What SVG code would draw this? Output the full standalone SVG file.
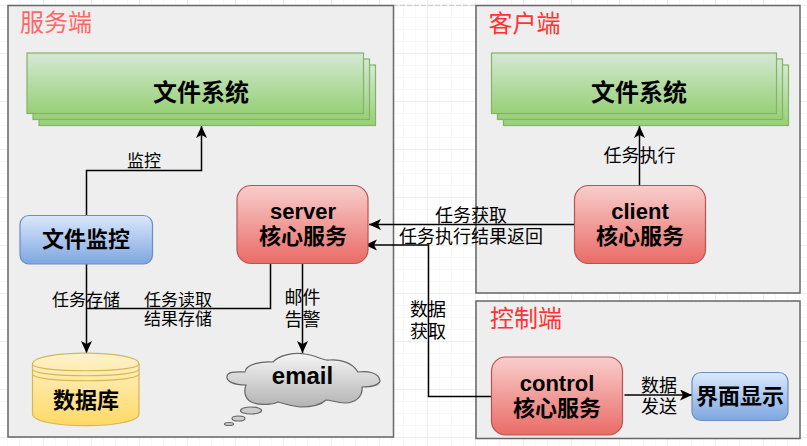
<svg xmlns="http://www.w3.org/2000/svg" width="807" height="446" viewBox="0 0 807 446">
<style>
.panel{fill:#eeeeee;stroke:#666666;stroke-width:1.5}
.title{font:24px "Noto Sans CJK SC","Liberation Sans",sans-serif;fill:#ff3333}
.lbl{font:18px "Noto Sans CJK SC","Liberation Sans",sans-serif;fill:#000;text-anchor:middle}
.b{font:bold 22px "Liberation Sans","Noto Sans CJK SC",sans-serif;fill:#000;text-anchor:middle}
.green{fill:url(#g);stroke:#82b366;stroke-width:1.2}
.red{fill:url(#r);stroke:#b85450;stroke-width:1.2}
.blue{fill:url(#bl);stroke:#6c8ebf;stroke-width:1.2}
.yel{fill:url(#y);stroke:#d6b656;stroke-width:1.2}
.c{fill:none;stroke:#000;stroke-width:1.5}
</style>
<defs>
<linearGradient id="g" x1="0" y1="0" x2="0" y2="1"><stop offset="0" stop-color="#d5e8d4"/><stop offset="1" stop-color="#97d077"/></linearGradient>
<linearGradient id="r" x1="0" y1="0" x2="0" y2="1"><stop offset="0" stop-color="#f8cecc"/><stop offset="1" stop-color="#ea6b66"/></linearGradient>
<linearGradient id="bl" x1="0" y1="0" x2="0" y2="1"><stop offset="0" stop-color="#dae8fc"/><stop offset="1" stop-color="#7ea6e0"/></linearGradient>
<linearGradient id="y" x1="0" y1="0" x2="0" y2="1"><stop offset="0" stop-color="#fff2cc"/><stop offset="1" stop-color="#ffd966"/></linearGradient>
<linearGradient id="gr" x1="0" y1="0" x2="0" y2="1"><stop offset="0" stop-color="#f5f5f5"/><stop offset="1" stop-color="#b3b3b3"/></linearGradient>
<pattern id="grid" width="48" height="48" patternUnits="userSpaceOnUse" x="-5" y="5"><path d="M12.500 0V48M24.500 0V48M36.500 0V48M0 12.500H48M0 24.500H48M0 36.500H48" fill="none" stroke="#f8f8f8" stroke-width="1"/><path d="M48 .5H0M.5 0V48" fill="none" stroke="#eeeeee" stroke-width="1"/></pattern>
<marker id="a" markerWidth="13" markerHeight="12" refX="12" refY="5.500" orient="auto" markerUnits="userSpaceOnUse"><path d="M0 0L12 5.500L0 11L3 5.500Z" fill="#000"/></marker>
</defs>
<rect width="807" height="446" fill="#fff"/>
<rect width="807" height="446" fill="url(#grid)"/>
<path d="M393 5.300H476" stroke="#c4c4c4" stroke-width="1" stroke-dasharray="5 2" fill="none"/>
<g id="panel-server"><rect class="panel" x="8" y="5.500" width="385.500" height="431.500"/><text class="title" x="20" y="31" style="fill:#ff6666">服务端</text></g>
<g id="panel-client"><rect class="panel" x="476" y="5.500" width="324" height="287.500"/><text class="title" x="488.500" y="32">客户端</text></g>
<g id="panel-control"><rect class="panel" x="476" y="301" width="324" height="137.500"/><text class="title" x="490" y="327">控制端</text></g>
<g id="connectors">
<path class="c" d="M86.500 215V170.500H201.500V126" marker-end="url(#a)"/>
<path class="c" d="M86.500 264V353" marker-end="url(#a)"/>
<path class="c" d="M270.500 264V308.500H86.500"/>
<path class="c" d="M302.500 264V353" marker-end="url(#a)"/>
<path class="c" d="M639.500 185V126" marker-end="url(#a)"/>
<path class="c" d="M574.500 224.500H369" marker-end="url(#a)"/>
<path class="c" d="M491.500 396.500H428.500V245H365" marker-end="url(#a)"/>
<path class="c" d="M624.500 395H692" marker-end="url(#a)"/>
</g>
<g id="labels">
<text class="lbl" x="144" y="167" style="font-size:17px">监控</text>
<text class="lbl" x="86" y="306" style="font-size:17px">任务存储</text>
<text class="lbl" x="178" y="306" style="font-size:17px">任务读取</text>
<text class="lbl" x="178" y="325" style="font-size:17px">结果存储</text>
<text class="lbl" x="302.500" y="304">邮件</text>
<text class="lbl" x="302.500" y="326">告警</text>
<text class="lbl" x="639.500" y="162">任务执行</text>
<text class="lbl" x="471" y="222">任务获取</text>
<text class="lbl" x="471" y="243">任务执行结果返回</text>
<text class="lbl" x="428" y="316">数据</text>
<text class="lbl" x="428" y="338">获取</text>
<text class="lbl" x="659" y="392">数据</text>
<text class="lbl" x="659" y="413">发送</text>
</g>
<g id="fs-server"><rect class="green" x="39" y="65" width="336.500" height="60.500"/><rect class="green" x="33" y="59" width="336.500" height="60.500"/><rect class="green" x="27" y="53" width="336.500" height="60.500"/><text class="b" x="201" y="101" style="font-size:24px">文件系统</text></g>
<g id="fs-client"><rect class="green" x="503.500" y="65" width="285" height="60.500"/><rect class="green" x="497.500" y="59" width="285" height="60.500"/><rect class="green" x="491.500" y="53" width="285" height="60.500"/><text class="b" x="639" y="101" style="font-size:24px">文件系统</text></g>
<g id="monitor"><rect class="blue" x="20" y="215.500" width="132.500" height="48.500" rx="9"/><text class="b" x="86" y="247">文件监控</text></g>
<g id="server"><rect class="red" x="237" y="185.500" width="131" height="78" rx="14"/><text class="b" x="303" y="219">server</text><text class="b" x="303" y="244">核心服务</text></g>
<g id="db"><path class="yel" d="M32.500 364C32.500 349.500 139 349.500 139 364V414C139 429.500 32.500 429.500 32.500 414Z"/><path d="M32.500 364C32.500 373 139 373 139 364M32.500 369C32.500 378 139 378 139 369M32.500 374C32.500 383 139 383 139 374" fill="none" stroke="#d6b656" stroke-width="1.2"/><text class="b" x="86" y="408">数据库</text></g>
<g id="email"><path fill="url(#gr)" stroke="#666666" stroke-width="1.2" d="M246 385C233 385 226 381 227 376C228 371 237 372 245 372C246 364 262 361 273 362C279 355 295 352 305 354C316 355 323 361 329 360C339 359 352 362 358 372C367 371 379 372 380 381C379 385 371 387 362 387C363 396 356 403 345 403C337 403 331 400 326 400C321 405 312 407 300 407C289 406 283 403 278 402C272 405 259 405 254 403C246 401 243 393 246 385Z"/><ellipse cx="251" cy="410.500" rx="10.500" ry="3.500" fill="#cccccc" stroke="#666666" stroke-width="1.2"/><ellipse cx="238.500" cy="418.500" rx="6.500" ry="2.500" fill="#cccccc" stroke="#666666" stroke-width="1.2"/><ellipse cx="229" cy="424" rx="4.500" ry="1.500" fill="#cccccc" stroke="#666666" stroke-width="1.2"/><text class="b" x="302.500" y="384" style="font-size:24px">email</text></g>
<g id="client"><rect class="red" x="574.500" y="185.500" width="131" height="78" rx="14"/><text class="b" x="640" y="219">client</text><text class="b" x="640" y="244">核心服务</text></g>
<g id="control"><rect class="red" x="491.500" y="357" width="131" height="78" rx="14"/><text class="b" x="557" y="391">control</text><text class="b" x="557" y="416">核心服务</text></g>
<g id="ui"><rect class="blue" x="692" y="372.500" width="96" height="48" rx="9"/><text class="b" x="740" y="404">界面显示</text></g>
</svg>
